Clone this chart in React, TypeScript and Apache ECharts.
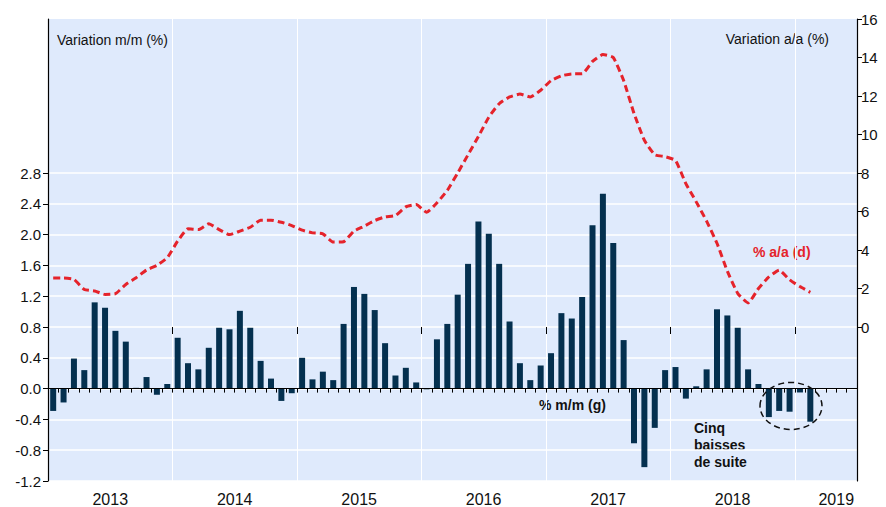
import React, { useEffect, useRef } from "react";
import * as echarts from "echarts";

const years = ["2013", "2014", "2015", "2016", "2017", "2018", "2019"];
const monthNames = ["01", "02", "03", "04", "05", "06", "07", "08", "09", "10", "11", "12"];
const monthsInLastYear = 6;

// % m/m (left axis), Jan 2013 - Feb 2019
const mmValues = [
  -0.29, -0.18, 0.39, 0.24, 1.12, 1.05, 0.75, 0.61, 0.01, 0.15, -0.08, 0.06,
  0.66, 0.33, 0.25, 0.53, 0.79, 0.77, 1.01, 0.79, 0.36, 0.13, -0.16, -0.06,
  0.40, 0.12, 0.22, 0.11, 0.84, 1.32, 1.23, 1.02, 0.59, 0.17, 0.27, 0.08,
  -0.01, 0.64, 0.84, 1.22, 1.62, 2.17, 2.01, 1.62, 0.87, 0.33, 0.11, 0.30,
  0.46, 0.98, 0.91, 1.19, 2.12, 2.53, 1.89, 0.63, -0.71, -1.02, -0.51, 0.24,
  0.28, -0.13, 0.03, 0.25, 1.03, 0.95, 0.79, 0.25, 0.06, -0.37, -0.29, -0.30,
  -0.05, -0.43,
];

// % a/a (right axis), Jan 2013 - Feb 2019
const yoyValues = [
  2.54, 2.54, 2.47, 1.95, 1.87, 1.69, 1.73, 2.21, 2.56, 2.96, 3.2, 3.6,
  4.46, 5.1, 5.06, 5.36, 5.06, 4.8, 4.98, 5.18, 5.55, 5.55, 5.44, 5.27,
  5.03, 4.89, 4.84, 4.41, 4.43, 4.98, 5.24, 5.53, 5.72, 5.79, 6.24, 6.36,
  5.96, 6.45, 7.1, 8.0, 8.95, 9.9, 10.9, 11.6, 11.95, 12.1, 11.95, 12.3,
  12.8, 13.05, 13.15, 13.15, 13.8, 14.15, 14.0, 12.8, 11.1, 9.7, 8.95, 8.85,
  8.65, 7.45, 6.5, 5.5, 4.35, 2.9, 1.75, 1.25, 2.0, 2.6, 2.95, 2.45,
  2.1, 1.8,
];

const leftTicks = [-1.2, -0.8, -0.4, 0.0, 0.4, 0.8, 1.2, 1.6, 2.0, 2.4, 2.8];
const rightTicks = [0, 2, 4, 6, 8, 10, 12, 14, 16];
const yearTickPos = [0, 12, 24, 36, 48, 60, 72];
const yearLabelPos = [6, 18, 30, 42, 54, 66, 76];

const categories: string[] = [];
years.forEach((y, i) => {
  const n = i === years.length - 1 ? monthsInLastYear : 12;
  for (let m = 0; m < n; m++) categories.push(y + "-" + monthNames[m]);
});

const FONT = '"Liberation Sans", Arial, sans-serif';
const RED = "#e5232b";
const NAVY = "#04304f";

export default function App() {
  const ref = useRef<HTMLDivElement>(null);
  useEffect(() => {
    if (!ref.current) return;
    const chart = echarts.init(ref.current, null, { renderer: "svg" });
    chart.setOption({
      animation: false,
      textStyle: { fontFamily: FONT },
      grid: {
        left: 48,
        right: 29,
        top: 19,
        bottom: 25,
        show: true,
        backgroundColor: "#dfeafc",
        borderWidth: 0,
      },
      xAxis: [
        {
          type: "category",
          data: categories,
          position: "bottom",
          boundaryGap: true,
          axisLine: { show: true, lineStyle: { color: "#000", width: 1 } },
          axisTick: { show: true, interval: 0, length: 4, lineStyle: { color: "#000" } },
          axisLabel: { show: false },
          splitLine: {
            show: true,
            interval: (index: number) => index % 12 === 0,
            lineStyle: { color: "#ffffff", width: 1 },
          },
        },
        {
          type: "value",
          position: "bottom",
          min: 0,
          max: categories.length,
          axisLine: { show: false },
          axisTick: {
            show: true,
            customValues: yearTickPos,
            length: 7,
            lineStyle: { color: "#000" },
          },
          axisLabel: {
            show: true,
            customValues: yearLabelPos,
            formatter: (v: number) => {
              const i = yearLabelPos.indexOf(v);
              return i >= 0 ? years[i] : "";
            },
            color: "#111",
            fontSize: 16,
            margin: 10,
            fontFamily: FONT,
          },
          splitLine: { show: false },
        },
      ],
      yAxis: [
        {
          type: "value",
          position: "left",
          min: -1.2,
          max: 4.8,
          interval: 0.4,
          axisLine: { show: true, lineStyle: { color: "#000", width: 1.2 } },
          axisTick: {
            show: true,
            customValues: leftTicks,
            length: 5,
            lineStyle: { color: "#000" },
          },
          axisLabel: {
            show: true,
            customValues: leftTicks,
            formatter: (v: number) => v.toFixed(1),
            color: "#111",
            fontSize: 15,
            margin: 7,
            fontFamily: FONT,
          },
          splitLine: { show: true, lineStyle: { color: "#ffffff", width: 1.5 } },
        },
        {
          type: "value",
          position: "right",
          min: -8,
          max: 16,
          interval: 2,
          axisLine: { show: true, lineStyle: { color: "#000", width: 1.2 } },
          axisTick: {
            show: true,
            customValues: rightTicks,
            length: 5,
            lineStyle: { color: "#000" },
          },
          axisLabel: {
            show: true,
            customValues: rightTicks,
            color: "#111",
            fontSize: 15,
            margin: 4,
            fontFamily: FONT,
          },
          splitLine: { show: false },
        },
      ],
      series: [
        {
          name: "% m/m (g)",
          type: "bar",
          xAxisIndex: 0,
          yAxisIndex: 0,
          data: mmValues,
          barWidth: 6,
          itemStyle: { color: NAVY },
          markLine: {
            silent: true,
            symbol: "none",
            label: { show: false },
            lineStyle: { color: "#000", type: "solid", width: 1 },
            data: [{ yAxis: 0 }],
          },
        },
        {
          name: "% a/a (d)",
          type: "line",
          xAxisIndex: 0,
          yAxisIndex: 1,
          data: yoyValues,
          symbol: "none",
          smooth: 0.15,
          lineStyle: { color: RED, width: 3, type: [7, 4], cap: "butt" },
          z: 5,
        },
      ],
      graphic: [
        {
          type: "text",
          left: 57,
          top: 33,
          style: { text: "Variation m/m (%)", fontSize: 14, fontFamily: FONT, fill: "#111" },
        },
        {
          type: "text",
          right: 57,
          top: 32,
          style: { text: "Variation a/a (%)", fontSize: 14, fontFamily: FONT, fill: "#111" },
        },
        {
          type: "text",
          left: 753,
          top: 245,
          style: { text: "% a/a (d)", fontSize: 14, fontWeight: "bold", fontFamily: FONT, fill: RED },
        },
        {
          type: "text",
          left: 539,
          top: 398,
          style: { text: "% m/m (g)", fontSize: 14, fontWeight: "bold", fontFamily: FONT, fill: "#111" },
        },
        {
          type: "text",
          left: 694,
          top: 420,
          style: {
            text: "Cinq\nbaisses\nde suite",
            fontSize: 14,
            fontWeight: "bold",
            fontFamily: FONT,
            fill: "#111",
            lineHeight: 16.7,
          },
        },
        {
          type: "ellipse",
          shape: { cx: 791, cy: 406, rx: 31, ry: 23.5 },
          style: { fill: "none", stroke: "#111", lineWidth: 1.5, lineDash: [6, 4] },
          z: 10,
        },
      ],
    });
    return () => chart.dispose();
  }, []);
  return (
    <div
      ref={ref}
      style={{ position: "absolute", left: 0, top: 0, width: 886, height: 507 }}
    />
  );
}
